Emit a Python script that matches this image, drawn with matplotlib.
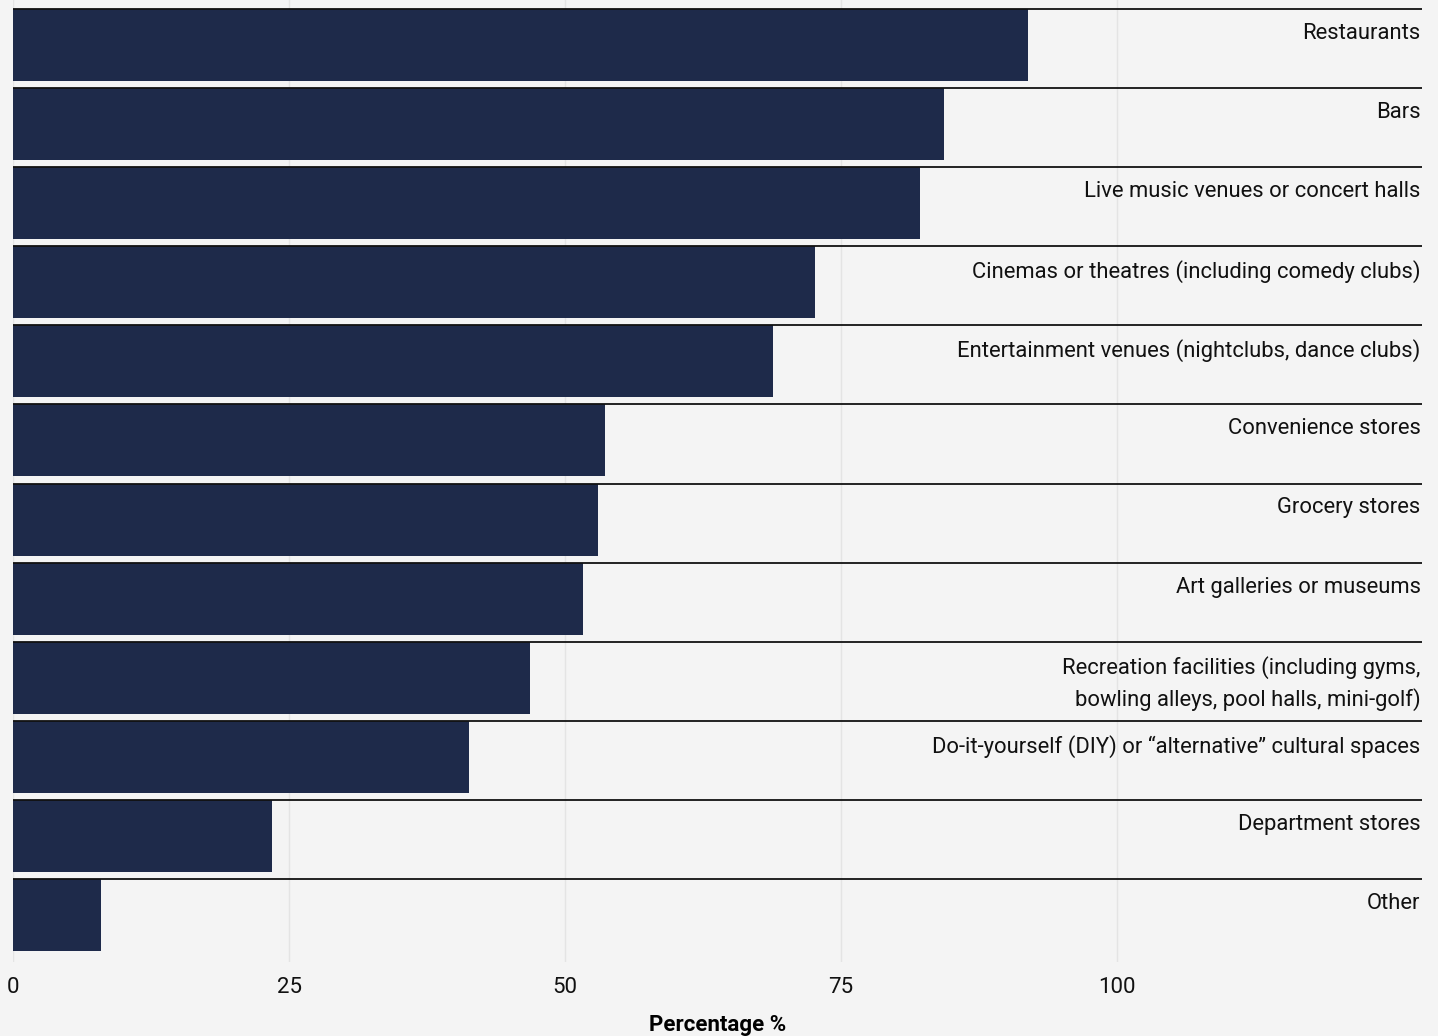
import matplotlib

matplotlib.use("Agg")
import matplotlib.pyplot as plt
import numpy as np

categories = [
    "Restaurants",
    "Bars",
    "Live music venues or concert halls",
    "Cinemas or theatres (including comedy clubs)",
    "Entertainment venues (nightclubs, dance clubs)",
    "Convenience stores",
    "Grocery stores",
    "Art galleries or museums",
    "Recreation facilities (including gyms,\nbowling alleys, pool halls, mini-golf)",
    "Do-it-yourself (DIY) or \u201calternative\u201d cultural spaces",
    "Department stores",
    "Other",
]
values = [91.9, 84.3, 82.1, 72.6, 68.8, 53.6, 53.0, 51.6, 46.8, 41.3, 23.5, 8.0]
xticks = [0, 25, 50, 75, 100]

BG = "#f4f4f4"
BAR = "#1e2a4a"

plt.rcParams["font.family"] = ["Roboto", "DejaVu Sans"]

fig = plt.figure(figsize=(14.38, 10.36), dpi=100, facecolor=BG)
ax = fig.add_axes([13 / 1438, 74 / 1036, 1409 / 1438, 962 / 1036])
ax.set_facecolor(BG)

xmax = 127.6
height = 0.91
ys = np.arange(len(categories))
ax.barh(ys, values, height=height, align="edge", color=BAR, zorder=2)
for y, label in zip(ys, categories):
    ax.plot([0, xmax], [y, y], color="#111111", lw=1.3, zorder=3,
            solid_capstyle="butt")
    ax.annotate(label, xy=(xmax, y), xytext=(-1, -10), textcoords="offset points",
                ha="right", va="top", fontsize=15.8, color="#111111",
                linespacing=1.5, zorder=4)

ax.set_xlim(0, xmax)
ax.set_ylim(len(categories) - 1 + height + 0.14, -0.115)
ax.set_xticks(xticks)
ax.set_yticks([])
ax.grid(axis="x", color="#e4e4e4", lw=1, zorder=0)
ax.tick_params(axis="x", length=0, pad=11, labelsize=16, labelcolor="#111111")
for s in ax.spines.values():
    s.set_visible(False)
ax.set_xlabel("Percentage %", fontsize=16, fontweight="bold", labelpad=11)

fig.savefig("out.png", dpi=100, facecolor=BG)
